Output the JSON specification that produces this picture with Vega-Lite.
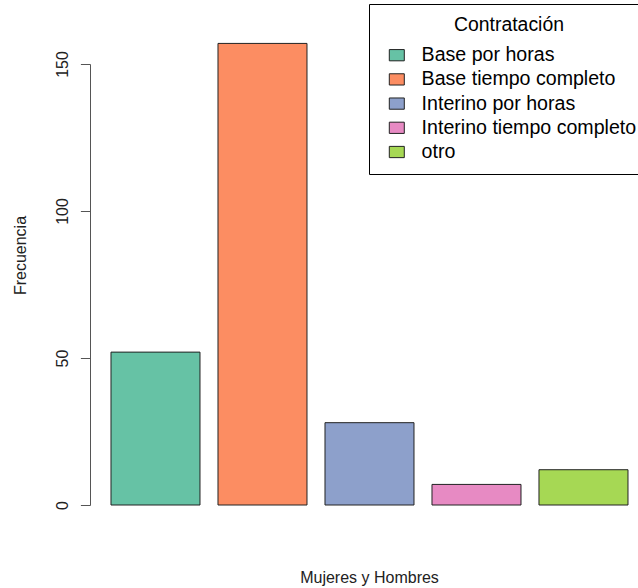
{
  "$schema": "https://vega.github.io/schema/vega-lite/v6.json",
  "width": 548,
  "height": 441,
  "autosize": {"type": "none"},
  "padding": {"left": 90, "top": 64, "right": 0, "bottom": 83},
  "background": "white",
  "config": {"view": {"stroke": null}, "font": "Liberation Sans"},
  "data": {
    "values": [
      {"Contratacion": "Base por horas", "Frecuencia": 52},
      {"Contratacion": "Base tiempo completo", "Frecuencia": 157},
      {"Contratacion": "Interino por horas", "Frecuencia": 28},
      {"Contratacion": "Interino tiempo completo", "Frecuencia": 7},
      {"Contratacion": "otro", "Frecuencia": 12}
    ]
  },
  "mark": {"type": "bar", "stroke": "#222", "strokeWidth": 1, "clip": false},
  "encoding": {
    "x": {
      "field": "Contratacion",
      "type": "nominal",
      "sort": null,
      "scale": {"paddingInner": 0.1682, "paddingOuter": 0.1449, "align": 0.677},
      "axis": {
        "title": "Mujeres y Hombres",
        "labels": false,
        "ticks": false,
        "domain": false,
        "titleX": 279,
        "titleY": 72,
        "titleAlign": "center",
        "titleBaseline": "middle",
        "titleFontSize": 16,
        "titleFontWeight": "normal",
        "titleColor": "#222"
      }
    },
    "y": {
      "field": "Frecuencia",
      "type": "quantitative",
      "scale": {"domain": [0, 150], "nice": false, "zero": true},
      "axis": {
        "values": [0, 50, 100, 150],
        "grid": false,
        "title": "Frecuencia",
        "titleX": -70,
        "titleY": 191,
        "titleAngle": -90,
        "titleAlign": "center",
        "titleBaseline": "middle",
        "titleFontSize": 16,
        "titleFontWeight": "normal",
        "titleColor": "#222",
        "labelAngle": -90,
        "labelAlign": "center",
        "labelBaseline": "alphabetic",
        "labelPadding": 13,
        "labelFontSize": 16,
        "labelColor": "#222",
        "tickSize": 9.6,
        "tickColor": "#555",
        "domainColor": "#555"
      }
    },
    "color": {
      "field": "Contratacion",
      "type": "nominal",
      "sort": null,
      "scale": {
        "domain": ["Base por horas", "Base tiempo completo", "Interino por horas", "Interino tiempo completo", "otro"],
        "range": ["#66C2A5", "#FC8D62", "#8DA0CB", "#E78AC3", "#A6D854"]
      },
      "legend": {
        "orient": "none",
        "legendX": 279,
        "legendY": -60,
        "title": "Contratación",
        "titleFontSize": 19.4,
        "titleFontWeight": "normal",
        "titleColor": "black",
        "titleAnchor": "middle",
        "titlePadding": 10,
        "labelFontSize": 19.6,
        "labelColor": "black",
        "labelOffset": 15,
        "labelLimit": 400,
        "symbolType": "M-1,-0.75H1V0.75H-1Z",
        "symbolSize": 225,
        "symbolStrokeColor": "#222",
        "symbolStrokeWidth": 1,
        "symbolOffset": 6,
        "rowPadding": 3.2,
        "padding": 12,
        "strokeColor": "black",
        "fillColor": "white"
      }
    }
  }
}
